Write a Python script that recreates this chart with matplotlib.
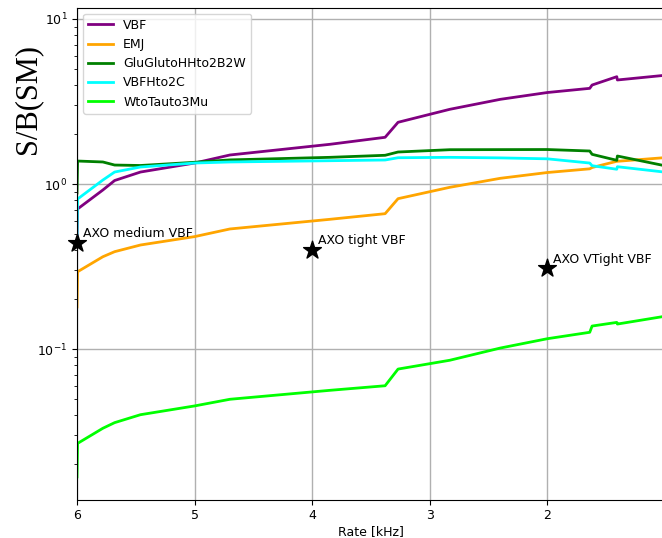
import matplotlib
matplotlib.use("Agg")
import matplotlib.pyplot as plt
import numpy as np

# rate points (kHz), first point is the clipped edge at 6 kHz
rate = [6.0, 5.995, 5.78, 5.68, 5.46, 5.0, 4.70, 3.85, 3.38, 3.27, 2.83, 2.40,
        2.0, 1.64, 1.62, 1.41, 1.405, 1.0]

vbf = [0.49, 0.706, 0.92, 1.05, 1.182, 1.34, 1.499, 1.74, 1.919, 2.366, 2.836, 3.26,
       3.585, 3.80, 3.98, 4.47, 4.27, 4.56]
emj = [0.18, 0.294, 0.3625, 0.389, 0.427, 0.480, 0.534, 0.611, 0.661, 0.815, 0.955, 1.083,
       1.174, 1.236, 1.259, 1.373, 1.373, 1.445]
gluglu = [0.882, 1.378, 1.36, 1.303, 1.295, 1.354, 1.40, 1.451, 1.493, 1.563, 1.614, 1.616,
          1.618, 1.585, 1.513, 1.392, 1.478, 1.29]
vbfh2c = [0.49, 0.811, 1.057, 1.182, 1.268, 1.340, 1.36, 1.384, 1.398, 1.443, 1.451, 1.44,
          1.421, 1.340, 1.291, 1.229, 1.273, 1.18]
wtau = [0.0168, 0.0268, 0.0331, 0.0358, 0.0400, 0.0452, 0.0496, 0.0562, 0.0599, 0.0756, 0.0855, 0.1014,
        0.1155, 0.1263, 0.1378, 0.145, 0.1417, 0.158]

series = [("VBF", vbf, "purple"),
          ("EMJ", emj, "orange"),
          ("GluGlutoHHto2B2W", gluglu, "green"),
          ("VBFHto2C", vbfh2c, "cyan"),
          ("WtoTauto3Mu", wtau, "lime")]

# AXO working points
axo_rate = [6.0, 4.0, 2.0]
axo_sb = [0.439, 0.398, 0.308]
axo_names = ["AXO medium VBF", "AXO tight VBF", "AXO VTight VBF"]

rate_ticks = [6, 5, 4, 3, 2]

plt.rcParams["font.size"] = 9

fig = plt.figure(figsize=(6.62, 5.38), dpi=100)
ax = fig.add_axes([77 / 662, 1 - 499.5 / 538, 588 / 662, 492 / 538])

for name, vals, col in series:
    ax.plot(rate, vals, color=col, lw=2, label=name)

ax.scatter(axo_rate, axo_sb, marker="*", s=180, color="black", zorder=5, clip_on=False)
for r, v, n in zip(axo_rate, axo_sb, axo_names):
    ax.annotate(n, (r, v), xytext=(4, 4), textcoords="offset points", fontsize=9)

ax.set_yscale("log")
ax.set_xlim(6, 1)
ax.set_ylim(0.01225, 11.74)
ax.set_xticks(rate_ticks)
ax.grid(True, which="major", color="#b0b0b0", lw=1)
ax.set_xlabel("Rate [kHz]", labelpad=2)
ax.set_ylabel("S/B(SM)", fontsize=22, family="Liberation Serif")
ax.yaxis.set_label_coords(-0.06, 0.814)
ax.legend(loc="upper left", fontsize=9)

fig.savefig("out.png", dpi=100)
